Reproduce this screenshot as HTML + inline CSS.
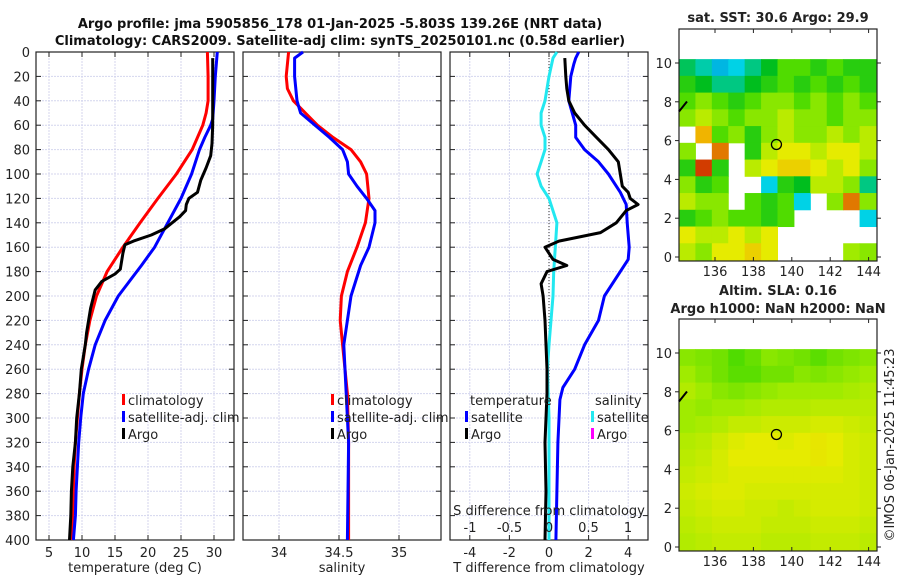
<!DOCTYPE html>
<html><head><meta charset="utf-8"><style>
body{margin:0;background:#fff;}
svg{font-family:"DejaVu Sans","Liberation Sans",sans-serif;}
</style></head><body>
<svg id="fig" width="900" height="580" xmlns="http://www.w3.org/2000/svg">
<g id="g"></g>
</svg>
<script>
// ---- data ----
const tDepthClim=[0,20,40,50,60,80,100,120,140,160,180,200,220,240,260,280,300,320,340,360,380,400];
const tClim=[29,29.1,29.1,28.8,28.3,26.7,24.3,21.5,18.8,16.2,13.8,12.2,11.2,10.5,10,9.6,9.3,9,8.8,8.7,8.6,8.4];
const tDepthSat=[0,20,40,55,60,70,80,100,120,140,160,175,200,220,240,260,280,300,320,340,360,380,400];
const tSat=[30.5,30.2,30,29.8,29.5,28.6,27.8,26.6,25,23,21,19,15.5,13.5,12,11,10.2,9.8,9.5,9.3,9.1,9,8.7];
const tDepthArgo=[5,20,40,60,75,85,95,105,115,120,125,130,135,145,150,155,158,165,178,182,188,195,210,230,240,260,280,300,320,340,360,380,400];
const tArgo=[29.8,29.8,29.8,29.8,29.7,29.5,28.8,28,27.5,26.2,25.8,25.7,24.8,22.5,20.5,17.8,16.5,16.2,15.8,15,13,12,11.3,10.7,10.5,9.9,9.6,9.2,9,8.6,8.4,8.3,8.1];
const sDepthClim=[0,20,30,40,50,60,70,80,90,100,120,140,160,180,200,220,240,280,320,400];
const sClim=[34.08,34.06,34.07,34.12,34.22,34.32,34.45,34.6,34.68,34.73,34.75,34.72,34.65,34.57,34.52,34.51,34.53,34.57,34.58,34.58];
const sDepthSat=[0,5,20,40,50,60,70,80,90,100,110,120,130,140,160,175,200,220,240,280,320,400];
const sSat=[34.2,34.13,34.13,34.15,34.18,34.3,34.42,34.53,34.57,34.58,34.65,34.73,34.8,34.8,34.75,34.68,34.6,34.57,34.54,34.56,34.58,34.57];
const dDepthSatT=[0,5,10,20,40,60,70,80,90,100,115,125,140,160,170,180,200,220,240,260,275,285,320,400];
const dSatT=[1.5,1.35,1.25,1.1,1.0,1.35,1.35,1.8,2.5,3.0,3.6,3.9,3.95,4.05,4.0,3.6,2.8,2.5,1.8,1.3,0.7,0.55,0.45,0.35];
const dDepthArgoT=[5,20,30,40,50,60,70,80,90,100,110,115,120,125,130,140,148,155,160,170,175,180,190,200,220,240,260,280,320,360,400];
const dArgoT=[0.8,0.85,0.9,1.0,1.3,1.8,2.4,3.0,3.5,3.6,3.7,4.0,4.1,4.5,3.9,3.4,2.6,0.5,-0.2,0.2,0.9,-0.1,-0.4,-0.3,-0.2,-0.15,-0.1,-0.1,-0.2,-0.15,-0.2];
const dDepthSatS=[0,5,20,40,50,60,70,80,90,100,110,120,140,160,180,200,240,260,300,400];
const dSatS=[0.1,0.05,0,-0.05,-0.1,-0.1,-0.05,-0.05,-0.1,-0.15,-0.1,0,0.1,0.08,0.06,0.05,0,-0.02,0,0];
const depthTicks=[0,20,40,60,80,100,120,140,160,180,200,220,240,260,280,300,320,340,360,380,400];
const tTicks=[5,10,15,20,25,30];
const sTicks=[34,34.5,35];
const dTTicks=[-4,-2,0,2,4];
const dSTicks=[-1,-0.5,0,0.5,1];
const lonTicks=[136,138,140,142,144];
const latTicks=[0,2,4,6,8,10];
const sstGrid=[
[0.42,0.38,0.33,0.35,0.4,0.45,0.55,0.55,0.5,0.55,0.5,0.5],
[0.5,0.45,0.4,0.4,0.45,0.5,0.55,0.5,0.55,0.5,0.55,0.5],
[0.55,0.6,0.55,0.5,0.55,0.6,0.6,0.55,0.6,0.55,0.6,0.55],
[0.6,0.65,0.6,0.55,0.6,0.6,0.65,0.6,0.6,0.55,0.6,0.6],
[null,0.8,0.55,0.6,0.5,0.6,0.65,0.6,0.6,0.65,0.6,0.65],
[0.6,null,0.85,null,0.5,0.65,0.7,0.7,0.65,0.7,0.7,0.65],
[0.5,0.9,0.5,null,0.65,0.7,0.75,0.75,0.7,0.65,0.7,0.6],
[0.6,0.5,0.55,null,null,0.35,0.5,0.45,0.65,0.65,0.6,0.4],
[0.65,0.6,0.6,null,0.55,0.5,0.55,0.35,null,0.6,0.85,0.6],
[0.5,0.55,0.6,0.55,0.55,0.5,0.55,null,null,null,null,0.35],
[0.7,0.65,0.65,0.7,0.65,0.7,null,null,null,null,null,null],
[0.65,0.6,0.7,0.7,0.75,0.7,null,null,null,null,0.62,0.6]];
const slaGrid=[
[0.6,0.59,0.58,0.55,0.57,0.6,0.59,0.58,0.56,0.58,0.59,0.6],
[0.62,0.6,0.58,0.56,0.56,0.58,0.58,0.6,0.59,0.6,0.61,0.62],
[0.64,0.62,0.6,0.59,0.6,0.61,0.62,0.62,0.62,0.62,0.63,0.64],
[0.62,0.61,0.62,0.62,0.63,0.64,0.64,0.64,0.65,0.65,0.65,0.65],
[0.62,0.63,0.64,0.66,0.66,0.67,0.67,0.67,0.68,0.68,0.67,0.66],
[0.64,0.65,0.67,0.69,0.7,0.7,0.69,0.7,0.71,0.7,0.68,0.67],
[0.65,0.66,0.68,0.7,0.7,0.7,0.7,0.7,0.71,0.7,0.68,0.67],
[0.66,0.67,0.68,0.69,0.69,0.69,0.69,0.69,0.69,0.69,0.68,0.67],
[0.67,0.68,0.69,0.69,0.68,0.68,0.68,0.68,0.68,0.68,0.68,0.67],
[0.66,0.67,0.68,0.68,0.67,0.67,0.66,0.67,0.68,0.68,0.68,0.67],
[0.65,0.66,0.67,0.67,0.67,0.66,0.66,0.66,0.67,0.67,0.67,0.66],
[0.64,0.65,0.66,0.66,0.66,0.65,0.65,0.65,0.66,0.66,0.66,0.65]];
const argoLon=139.2, argoLat=5.8;

// ---- helpers ----
const NS="http://www.w3.org/2000/svg";
const G=document.getElementById('g');
function el(tag,attrs,parent){const e=document.createElementNS(NS,tag);for(const k in attrs)e.setAttribute(k,attrs[k]);(parent||G).appendChild(e);return e;}
function txt(x,y,s,o,p){const e=el('text',Object.assign({x:x,y:y,'font-size':13,fill:'#222'},o||{}),p);e.textContent=s;return e;}
const Y0=52,Y1=540;
const yD=d=>Y0+(d/400)*(Y1-Y0);

function panel(name){
  const g=el('g',{});
  
  
  return g;
}
function grid(g,x0,x1,xs,xf){
  xs.forEach(v=>{const x=xf(v);el('line',{x1:x,x2:x,y1:Y0,y2:Y1,stroke:'#d4d6ee','stroke-width':1,'stroke-dasharray':'2,1'},g);});
  depthTicks.forEach(d=>{const y=yD(d);el('line',{x1:x0,x2:x1,y1:y,y2:y,stroke:'#d4d6ee','stroke-width':1,'stroke-dasharray':'2,1'},g);
    el('line',{x1:x0,x2:x0+5,y1:y,y2:y,stroke:'#222'},g);el('line',{x1:x1-5,x2:x1,y1:y,y2:y,stroke:'#222'},g);});
  xs.forEach(v=>{const x=xf(v);el('line',{x1:x,x2:x,y1:Y1,y2:Y1-5,stroke:'#222'},g);el('line',{x1:x,x2:x,y1:Y0,y2:Y0+5,stroke:'#222'},g);});
  el('rect',{x:x0,y:Y0,width:x1-x0,height:Y1-Y0,fill:'none',stroke:'#222','stroke-width':1.2},g);
}
function line(g,vals,depths,xf,color,name,w){
  const pts=vals.map((v,i)=>xf(v).toFixed(1)+','+yD(depths[i]).toFixed(1)).join(' ');
  const p=el('polyline',{points:pts,fill:'none',stroke:color,'stroke-width':w||3,'stroke-linejoin':'round'},g);
  
  
}
function legend(g,x,y,items){
  items.forEach((it,i)=>{el('rect',{x:x,y:y+i*17-11,width:3,height:11,fill:it[1]},g);
    const t=txt(x+6,y+i*17,it[0],{'font-size':13},g);});
}

let t=txt(340,28,'Argo profile: jma 5905856_178 01-Jan-2025 -5.803S 139.26E (NRT data)',{'font-weight':'bold','text-anchor':'middle','font-size':13,fill:'#111'});

t=txt(340,45,'Climatology: CARS2009. Satellite-adj clim: synTS_20250101.nc (0.58d earlier)',{'font-weight':'bold','text-anchor':'middle','font-size':13,fill:'#111'});


const xT=v=>49+(v-5)*6.6;
let g1=panel('temperature-panel');
grid(g1,36,234,tTicks,xT);
depthTicks.forEach(d=>txt(30,yD(d)+5,String(d),{'text-anchor':'end','font-size':13},g1));
tTicks.forEach(v=>txt(xT(v),557,String(v),{'text-anchor':'middle'},g1));
txt(135,572,'temperature (deg C)',{'text-anchor':'middle'},g1);
line(g1,tClim,tDepthClim,xT,'#f00','climatology-temperature-line');
line(g1,tSat,tDepthSat,xT,'#00f','satellite-temperature-line');
line(g1,tArgo,tDepthArgo,xT,'#000','argo-temperature-line');
legend(g1,122,405,[['climatology','#f00','climatology'],['satellite-adj. clim','#00f','satellite'],['Argo','#000','argo']]);

const xS=v=>279+(v-34)*120;
let g2=panel('salinity-panel');
grid(g2,243,441,sTicks,xS);
sTicks.forEach(v=>txt(xS(v),557,String(v),{'text-anchor':'middle'},g2));
txt(342,572,'salinity',{'text-anchor':'middle'},g2);
line(g2,sClim,sDepthClim,xS,'#f00','climatology-salinity-line');
line(g2,sSat,sDepthSat,xS,'#00f','satellite-salinity-line');
legend(g2,331,405,[['climatology','#f00','climatology-s'],['satellite-adj. clim','#00f','satellite-s'],['Argo','#000','argo-s']]);

const xDT=v=>549+v*19.8;
const xDS=v=>549+v*79;
let g3=panel('difference-panel');
grid(g3,450,648,dTTicks,xDT);
el('line',{x1:549,x2:549,y1:Y0,y2:Y1,stroke:'#333','stroke-dasharray':'1,2'},g3);
dTTicks.forEach(v=>txt(xDT(v),557,String(v),{'text-anchor':'middle'},g3));
txt(549,572,'T difference from climatology',{'text-anchor':'middle'},g3);
line(g3,dSatS,dDepthSatS,xDS,'#22e8f0','satellite-salinity-diff-line');
line(g3,dSatT,dDepthSatT,xDT,'#00f','satellite-temperature-diff-line');
line(g3,dArgoT,dDepthArgoT,xDT,'#000','argo-temperature-diff-line');
txt(549,515,'S difference from climatology',{'text-anchor':'middle'},g3);
dSTicks.forEach(v=>txt(xDS(v),532,String(v),{'text-anchor':'middle'},g3));
txt(470,405,'temperature',{},g3);
legend(g3,465,422,[['satellite','#00f','t-satellite'],['Argo','#000','t-argo']]);
txt(595,405,'salinity',{},g3);
legend(g3,591,422,[['satellite','#22e8f0','s-satellite'],['Argo','#f0f','s-argo']]);

function cmap(v){
  const stops=[[0.2,[0,0,200]],[0.35,[0,210,230]],[0.45,[0,190,30]],[0.55,[80,220,0]],[0.62,[160,235,0]],[0.7,[230,235,0]],[0.8,[240,180,0]],[0.9,[210,60,0]],[1,[160,0,0]]];
  if(v<=stops[0][0])return 'rgb('+stops[0][1]+')';
  for(let i=1;i<stops.length;i++){if(v<=stops[i][0]){const a=stops[i-1],b=stops[i];const f=(v-a[0])/(b[0]-a[0]);
    return 'rgb('+a[1].map((c,k)=>Math.round(c+(b[1][k]-c)*f)).join(',')+')';}}
  return 'rgb(160,0,0)';
}
const xLon=v=>715+(v-136)*19.2;
function map(gridData,top,bot,name,title){
  const lat=v=>bot-4-v*((bot-4-top-34)/10);
  const g=panel(name);
  el('rect',{x:679,y:top,width:198,height:bot-top,fill:'#fff'},g);
  const rows=gridData.length,cols=gridData[0].length;
  const x0=679,x1=876,yT=lat(10.2),yB=bot-1;
  const cw=(x1-x0)/cols,ch=(yB-yT)/rows;
  gridData.forEach((row,r)=>row.forEach((v,c)=>{if(v===null)return;
    const cell=el('rect',{x:x0+c*cw,y:yT+r*ch,width:cw+0.5,height:ch+0.5,fill:cmap(v)},g);
    }));
  el('rect',{x:679,y:top,width:198,height:bot-top,fill:'none',stroke:'#222','stroke-width':1.2},g);
  lonTicks.forEach(v=>{const x=xLon(v);el('line',{x1:x,x2:x,y1:bot,y2:bot-4,stroke:'#222'},g);el('line',{x1:x,x2:x,y1:top,y2:top+4,stroke:'#222'},g);
    txt(x,bot+15,String(v),{'text-anchor':'middle'},g);});
  latTicks.forEach(v=>{const y=lat(v);el('line',{x1:877,x2:881,y1:y,y2:y,stroke:'#222'},g);el('line',{x1:679,x2:675,y1:y,y2:y,stroke:'#222'},g);
    txt(672,y+5,String(v),{'text-anchor':'end'},g);});
  const c=el('circle',{cx:xLon(argoLon),cy:lat(argoLat),r:5,fill:'none',stroke:'#000','stroke-width':1.3},g);
  
  el('path',{d:'M679,'+(lat(7.5))+' l8,-10',stroke:'#000','stroke-width':2},g);
  title.forEach(s=>{const tt=txt(778,s[1],s[0],{'text-anchor':'middle','font-weight':'bold'},g);});
}
map(sstGrid,29,261,'sst-map',[['sat. SST: 30.6 Argo: 29.9',22]]);
map(slaGrid,319,551,'sla-map',[['Altim. SLA: 0.16',295],['Argo h1000: NaN h2000: NaN',313]]);
t=txt(0,0,'©IMOS 06-Jan-2025 11:45:23',{'text-anchor':'middle','font-size':13,transform:'translate(894,445) rotate(-90)'});

</script>
</body></html>
